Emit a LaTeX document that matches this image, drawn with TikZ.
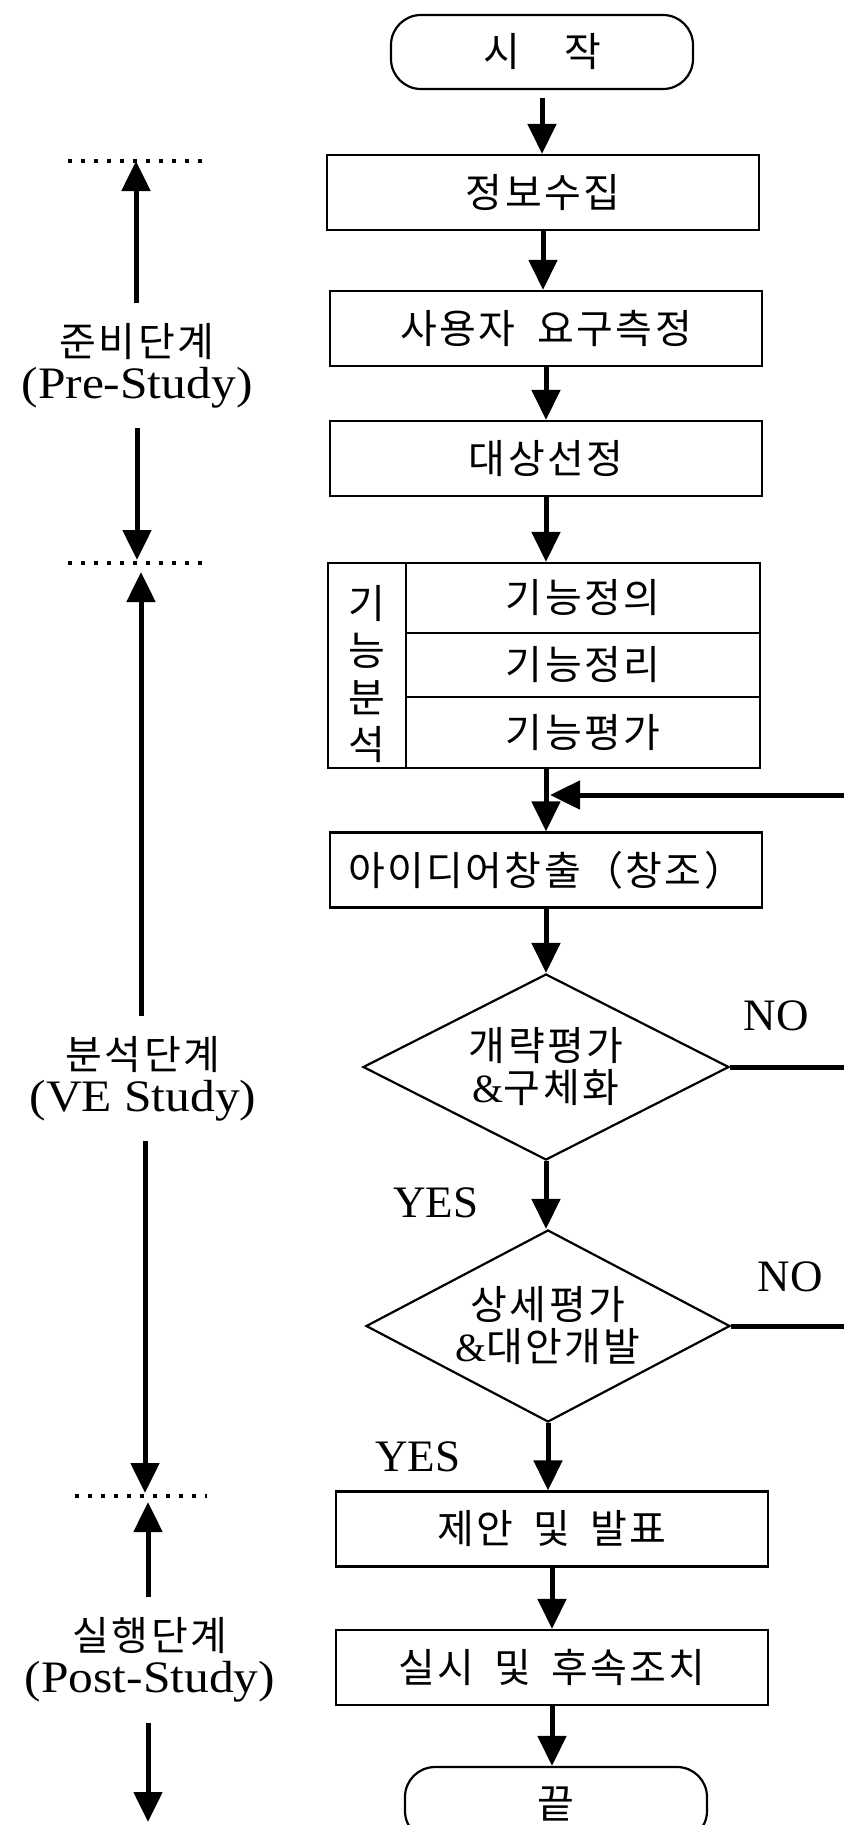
\documentclass[tikz,border=0pt]{standalone}
\usepackage{fontspec}
\setmainfont{Liberation Serif}
\newfontfamily\kr{Noto Sans CJK KR}[LetterSpace=6]
\newfontfamily\lat{Liberation Serif}[FakeStretch=1.1]
\newfontfamily\latn{Liberation Serif}
\usetikzlibrary{shapes.geometric,arrows.meta}
\tikzset{
  kt/.style={font=\kr\fontsize{40}{46}\selectfont},
  lt/.style={font=\latn\fontsize{45}{46}\selectfont, inner sep=0pt},
  procbox/.style={draw, line width=2.2pt, minimum width=432pt, minimum height=75pt, inner sep=0pt, kt},
  termbox/.style={draw, line width=2.2pt, rounded corners=30pt, minimum width=302pt, minimum height=74pt, inner sep=0pt, kt},
  cell/.style={draw, line width=2.2pt, inner sep=0pt, kt},
  decbox/.style={draw, diamond, aspect=2, line width=2.2pt, minimum width=366pt, minimum height=186pt, inner sep=0pt, align=center, font=\kr\fontsize{40}{42}\selectfont},
  flow/.style={line width=5pt, -{Triangle[length=30pt,width=28pt]}},
  plainline/.style={line width=5pt},
  dotline/.style={line width=3.5pt, dash pattern=on 4pt off 9pt},
  phase/.style={align=center, inner xsep=0pt, inner ysep=20pt, font=\fontsize{40}{42}\selectfont},
}
\begin{document}
\begin{tikzpicture}[x=1pt,y=-1pt]
\fill[white] (0,0) rectangle (843,1825);
\useasboundingbox (0,0) rectangle (843,1825);

% main column
\node[termbox] (start) at (542,52) {시\hspace{1.1em}작};
\node[procbox] (s1) at (543,192.5) {정보수집};
\node[procbox] (s2) at (546,328.5) {사용자\hspace{0.55em}요구측정};
\node[procbox] (s3) at (546,458.5) {대상선정};

\node[cell, minimum width=78pt, minimum height=205pt] (fl) at (367,665.5) {};
\node[align=center, inner sep=0pt, font=\kr\fontsize{40}{47}\selectfont] (fltext) at (367,674) {기\\능\\분\\석};
\node[cell, minimum width=354pt, minimum height=70pt] (f1) at (583,598) {기능정의};
\node[cell, minimum width=354pt, minimum height=64pt] (f2) at (583,665) {기능정리};
\node[cell, minimum width=354pt, minimum height=71pt] (f3) at (583,732.5) {기능평가};

\node[procbox] (s4) at (546,870) {아이디어창출（창조）};
\node[decbox] (d1) at (546,1067) {개략평가\\{\latn\&}구체화};
\node[decbox, minimum width=364pt, minimum height=192pt] (d2) at (548,1326) {상세평가\\{\latn\&}대안개발};
\node[procbox] (s5) at (552,1529) {제안\hspace{0.5em}및\hspace{0.5em}발표};
\node[procbox] (s6) at (552,1667.5) {실시\hspace{0.5em}및\hspace{0.5em}후속조치};
\node[termbox] (stop) at (556,1804) {끝};

% main arrows
\draw[flow, shorten <=8pt] (start.south) -- (start.south |- s1.north);
\draw[flow] (s1.south) -- (s1.south |- s2.north);
\draw[flow] (s2) -- (s3);
\draw[flow] (s3) -- (s3 |- f1.north);
\draw[flow] (s3 |- f3.south) -- (s4);
\draw[flow] (s4) -- (d1);
\draw[flow] (d1) -- (d1 |- d2.north);
\draw[flow] (d2.south) -- (d2.south |- s5.north);
\draw[flow] (s5) -- (s6);
\draw[flow] (s6.south) -- (s6.south |- stop.north);

% feedback loop
\coordinate (fb) at (550,795);
\coordinate (rt) at (858,795);
\draw[flow] (d1.east) -| (rt) -- (fb);
\draw[plainline] (d2.east) -| (rt);

% labels
\node[lt] (no1) at (776,1016) {NO};
\node[lt] (yes1) at (436,1203) {YES};
\node[lt] (no2) at (790,1277) {NO};
\node[lt] (yes2) at (418,1457) {YES};

% phase dividers
\coordinate (da1) at (68,161);  \coordinate (da2) at (202,161);
\coordinate (db1) at (68,563);  \coordinate (db2) at (203,563);
\coordinate (dc1) at (75,1496); \coordinate (dc2) at (207,1496);
\draw[dotline] (da1) -- (da2);
\draw[dotline] (db1) -- (db2);
\draw[dotline] (dc1) -- (dc2);

% phase labels and arrows
\node[phase] (pre) at (137,365.5) {{\kr 준비단계}\\{\lat\fontsize{45}{42}\selectfont (Pre-Study)}};
\coordinate (L1) at (136,161);
\coordinate (L2) at (137,560);
\draw[flow] (pre.north -| L1) -- (L1);
\draw[flow] (pre.south -| L2) -- (L2);

\node[phase] (ve) at (143,1078.5) {{\kr 분석단계}\\{\lat\fontsize{45}{42}\selectfont (VE Study)}};
\coordinate (L3) at (141,572);
\coordinate (L4) at (145,1493);
\draw[flow] (ve.north -| L3) -- (L3);
\draw[flow] (ve.south -| L4) -- (L4);

\node[phase] (post) at (150,1660) {{\kr 실행단계}\\{\lat\fontsize{45}{42}\selectfont (Post-Study)}};
\coordinate (L5) at (148,1502);
\coordinate (L6) at (148,1822);
\draw[flow] (post.north -| L5) -- (L5);
\draw[flow] (post.south -| L6) -- (L6);
\end{tikzpicture}
\end{document}
